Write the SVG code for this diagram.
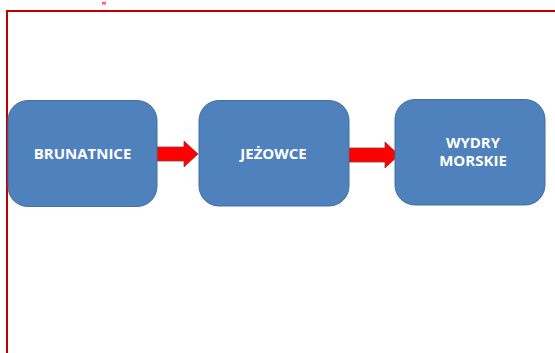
<svg xmlns="http://www.w3.org/2000/svg" width="555" height="353" viewBox="0 0 555 353">
<style>
.box{fill:#4F81BD;stroke:#41719C;stroke-width:1}
.lbl{fill:#FFFFFF;font-family:"Open Sans","Liberation Sans",sans-serif;font-weight:bold;font-size:15px;text-anchor:middle}
.arr{fill:#FF0000;stroke:#8B3A3A;stroke-width:0.8}
</style>
<rect width="555" height="353" fill="#FFFFFF"/>
<path d="M7,353 V11 H555" fill="none" stroke="#C00000" stroke-width="2"/>
<text x="101" y="9.5" fill="#FF0000" font-family="Liberation Sans, sans-serif" font-style="italic" font-weight="bold" font-size="10px">”</text>
<g id="connectors">
<path class="arr" d="M157,147 H184 V141 L198,154 L184,167 V161 H157 Z"/>
<path class="arr" d="M348,148 H385 V142 L399,155 L385,168 V162 H348 Z"/>
</g>
<g id="brunatnice">
<rect class="box" x="8" y="100.5" width="149" height="106" rx="20"/>
<text class="lbl" x="82.5" y="159">BRUNATNICE</text>
</g>
<g id="jezowce">
<rect class="box" x="199" y="100.5" width="150" height="105.5" rx="20"/>
<text class="lbl" x="273.5" y="159">JEŻOWCE</text>
</g>
<g id="wydry">
<rect class="box" x="395" y="99.5" width="150" height="105.5" rx="20"/>
<text class="lbl"><tspan x="473" y="147.5">WYDRY</tspan><tspan x="473" y="166">MORSKIE</tspan></text>
</g>
</svg>
